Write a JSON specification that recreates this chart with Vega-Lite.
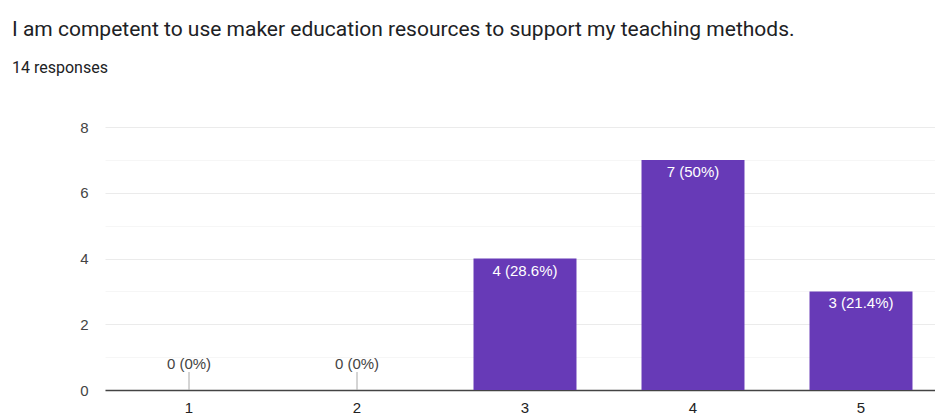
{
  "$schema": "https://vega.github.io/schema/vega-lite/v6.json",
  "width": 830,
  "height": 263,
  "autosize": {"type": "none"},
  "padding": {"left": 105, "top": 127, "right": 0, "bottom": 29},
  "background": "white",
  "title": {
    "text": "I am competent to use maker education resources to support my teaching methods.",
    "subtitle": "14 responses",
    "anchor": "start",
    "frame": "group",
    "dx": -93,
    "font": "Roboto",
    "fontSize": 21,
    "fontWeight": "normal",
    "color": "#202124",
    "subtitleFont": "Roboto",
    "subtitleFontSize": 16,
    "subtitleColor": "#202124",
    "subtitlePadding": 20,
    "offset": 44
  },
  "config": {"view": {"stroke": null}},
  "data": {
    "values": [
      {"option": "1", "count": 0, "label": "0 (0%)"},
      {"option": "2", "count": 0, "label": "0 (0%)"},
      {"option": "3", "count": 4, "label": "4 (28.6%)"},
      {"option": "4", "count": 7, "label": "7 (50%)"},
      {"option": "5", "count": 3, "label": "3 (21.4%)"}
    ]
  },
  "encoding": {
    "x": {
      "field": "option",
      "type": "ordinal",
      "scale": {"range": [0, 840], "paddingInner": 0.387, "paddingOuter": 0.1935},
      "axis": {
        "title": null,
        "labelAngle": 0,
        "labelFont": "Liberation Sans",
        "labelFontSize": 15,
        "labelColor": "#222222",
        "labelPadding": 10,
        "ticks": false,
        "grid": false,
        "domainColor": "#444444",
        "domainWidth": 1.5
      }
    },
    "y": {
      "field": "count",
      "type": "quantitative",
      "scale": {"domain": [0, 8], "nice": false},
      "axis": {
        "title": null,
        "values": [0, 1, 2, 3, 4, 5, 6, 7, 8],
        "labelExpr": "datum.value % 2 ? '' : datum.label",
        "labelFont": "Liberation Sans",
        "labelFontSize": 15,
        "labelColor": "#444444",
        "labelPadding": 17,
        "ticks": false,
        "domain": false,
        "gridColor": {"condition": {"test": "datum.value % 2 === 1", "value": "#f6f6f6"}, "value": "#ebebeb"}
      }
    }
  },
  "layer": [
    {"mark": {"type": "bar", "color": "#673ab7"}},
    {
      "transform": [{"filter": "datum.count > 0"}],
      "mark": {"type": "text", "color": "white", "font": "Liberation Sans", "fontSize": 15, "baseline": "middle", "dy": 12},
      "encoding": {"text": {"field": "label"}}
    },
    {
      "transform": [{"filter": "datum.count == 0"}],
      "mark": {"type": "text", "color": "#444444", "font": "Liberation Sans", "fontSize": 15, "baseline": "middle", "dy": -26},
      "encoding": {"text": {"field": "label"}}
    },
    {
      "transform": [{"filter": "datum.count == 0"}],
      "mark": {"type": "rule", "color": "#aaaaaa", "strokeWidth": 1, "y2Offset": -18},
      "encoding": {"y2": {"field": "count"}}
    }
  ]
}
